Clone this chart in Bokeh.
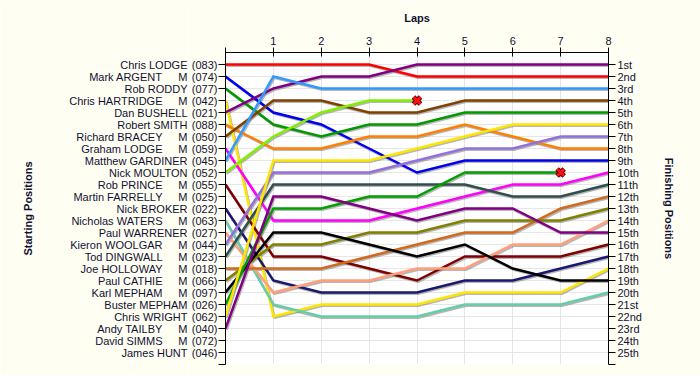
from bokeh.plotting import figure
from bokeh.layouts import row
from bokeh.models import ColumnDataSource, Range1d, LinearAxis, FixedTicker
from bokeh.core.properties import value
from bokeh.embed import file_html
from bokeh.resources import INLINE

# ---------------- data ----------------
DRIVERS = ["Chris LODGE", "Mark ARGENT", "Rob RODDY", "Chris HARTRIDGE", "Dan BUSHELL",
           "Robert SMITH", "Richard BRACEY", "Graham LODGE", "Matthew GARDINER", "Nick MOULTON",
           "Rob PRINCE", "Martin FARRELLY", "Nick BROKER", "Nicholas WATERS", "Paul WARRENER",
           "Kieron WOOLGAR", "Tod DINGWALL", "Joe HOLLOWAY", "Paul CATHIE", "Karl MEPHAM",
           "Buster MEPHAM", "Chris WRIGHT", "Andy TAILBY", "David SIMMS", "James HUNT"]
CAR_NUMBERS = ["083", "074", "077", "042", "021", "088", "050", "059", "045", "052",
               "055", "025", "022", "063", "027", "044", "023", "018", "066", "097",
               "026", "062", "040", "072", "046"]
M_CLASS = [False, True, False, True, False, False, True, True, False, False,
           True, True, False, True, False, True, True, True, True, True,
           False, False, True, True, False]
COLORS = ["#FF0000", "#0000EE", "#009900", "#FFE600", "#800080",
          "#FF8000", "#804000", "#FF00FF", "#3399FF", "#80F000",
          "#800000", "#808080", "#191970", "#66CDAA", "#FFA07A",
          "#9370DB", "#2F4F4F", "#D2691E", "#808000", "#000000",
          "#00A000", "#FFE600", "#800080", "#808080", "#808080"]

LAPS = [0, 1, 2, 3, 4, 5, 6, 7, 8]
N = None
LAP_0 = [1, 2, 3, 4, 5, 6, 7, 8, 9, 10, 11, N, 13, 14, 15, 16, 17, 18, 19, 20, 21, 22, 23, N, N]
LAP_1 = [1, 5, 6, 22, 3, 8, 4, 14, 2, 7, 17, N, 19, 21, 20, 10, 11, 18, 16, 15, 13, 9, 12, N, N]
LAP_2 = [1, 6, 7, 21, 2, 8, 4, 14, 3, 5, 17, N, 20, 22, 19, 10, 11, 18, 16, 15, 13, 9, 12, N, N]
LAP_3 = [1, 8, 6, 21, 2, 7, 5, 14, 3, 4, 18, N, 20, 22, 19, 10, 11, 17, 15, 16, 12, 9, 13, N, N]
LAP_4 = [2, 10, 6, 21, 1, 7, 5, 13, 3, 4, 19, N, 20, 22, 18, 9, 11, 16, 15, 17, 12, 8, 14, N, N]
LAP_5 = [2, 9, 5, 20, 1, 6, 4, 12, 3, N, 17, N, 19, 21, 18, 8, 11, 15, 14, 16, 10, 7, 13, N, N]
LAP_6 = [2, 9, 5, 20, 1, 7, 4, 11, 3, N, 17, N, 19, 21, 16, 8, 12, 15, 14, 18, 10, 6, 13, N, N]
LAP_7 = [2, 9, 5, 20, 1, 8, 4, 11, 3, N, 17, N, 18, 21, 16, 7, 12, 13, 14, 19, 10, 6, 15, N, N]
LAP_8 = [2, 9, 5, 18, 1, 8, 4, 10, 3, N, 16, N, 17, 20, 14, 7, 11, 12, 13, 19, N, 6, 15, N, N]

FINISH_LABELS = ["1st", "2nd", "3rd", "4th", "5th", "6th", "7th", "8th", "9th", "10th",
                 "11th", "12th", "13th", "14th", "15th", "16th", "17th", "18th", "19th", "20th",
                 "21st", "22nd", "23rd", "24th", "25th"]

# ---------------- layout / style ----------------
FONT = "Liberation Sans"
TXT = "#111133"
BG = "#FFFEF3"
TOTAL_W, TOTAL_H = 700, 375
NAMES_W = 188          # width of the driver-name panel
NAMES_LEFT = 38        # room for the "Starting Positions" title
NAME_RIGHT = 187       # right edge of plain names / "M" column (px)
MNAME_RIGHT = 162      # right edge of names that carry an "M"
TOP, BOTTOM = 52, 11

table = [LAP_0, LAP_1, LAP_2, LAP_3, LAP_4, LAP_5, LAP_6, LAP_7, LAP_8]
n_pos = len(DRIVERS)
positions = list(range(1, n_pos + 1))
y_range = Range1d(n_pos + 1, 0)

# ---------------- main chart ----------------
p = figure(width=TOTAL_W - NAMES_W, height=TOTAL_H, x_range=Range1d(LAPS[0], LAPS[-1]),
           y_range=y_range, x_axis_location="above",
           output_backend="svg", toolbar_location=None,
           min_border_left=37, min_border_right=92, min_border_top=TOP, min_border_bottom=BOTTOM)
p.border_fill_color = BG
p.background_fill_color = "white"
p.outline_line_color = None

p.xgrid.ticker = FixedTicker(ticks=LAPS)
p.ygrid.ticker = FixedTicker(ticks=positions + [n_pos + 1])
p.xgrid.grid_line_color = "#E6E6E6"
p.ygrid.grid_line_color = "#E6E6E6"

xa = p.xaxis[0]
xa.ticker = FixedTicker(ticks=LAPS)
xa.major_label_overrides = {LAPS[0]: ""}
xa.axis_label = "Laps"
xa.axis_label_text_font = FONT
xa.axis_label_text_font_size = "11px"
xa.axis_label_text_font_style = "bold"
xa.axis_label_text_color = TXT
xa.axis_label_standoff = 10
xa.major_label_text_font = FONT
xa.major_label_text_font_size = "11px"
xa.major_label_text_color = TXT
xa.major_label_standoff = 3
xa.major_tick_in = 4
xa.major_tick_out = 5
xa.minor_tick_line_color = None

ya = p.yaxis[0]
ya.ticker = FixedTicker(ticks=positions + [n_pos + 1])
ya.major_label_overrides = {**{i + 1: "(" + CAR_NUMBERS[i] + ")" for i in range(n_pos)}, n_pos + 1: ""}
ya.major_label_text_font = FONT
ya.major_label_text_font_size = "11px"
ya.major_label_text_color = TXT
ya.major_label_standoff = 1
ya.major_tick_in = 0
ya.major_tick_out = 7
ya.minor_tick_line_color = None

ra = LinearAxis(ticker=FixedTicker(ticks=positions + [n_pos + 1]),
                major_label_overrides={**{i + 1: FINISH_LABELS[i] for i in range(n_pos)}, n_pos + 1: ""},
                axis_label="Finishing Positions")
ra.axis_label_text_font = FONT
ra.axis_label_text_font_size = "11px"
ra.axis_label_text_font_style = "bold"
ra.axis_label_text_color = TXT
ra.axis_label_standoff = 18
ra.major_label_text_font = FONT
ra.major_label_text_font_size = "11px"
ra.major_label_text_color = TXT
ra.major_label_standoff = 2
ra.major_tick_in = 0
ra.major_tick_out = 7
ra.minor_tick_line_color = None
p.add_layout(ra, "right")

xs, ys, cols, sxs, sys_ = [], [], [], [], []
dnf_x, dnf_y = [], []
for i in range(n_pos):
    lx = [LAPS[k] for k in range(len(LAPS)) if table[k][i] is not None]
    ly = [table[k][i] for k in range(len(LAPS)) if table[k][i] is not None]
    if not lx:
        continue
    xs.append(lx)
    ys.append(ly)
    cols.append(COLORS[i])
    sxs.append([v + 0.022 for v in lx])
    sys_.append([v + 0.11 for v in ly])
    if lx[-1] != LAPS[-1]:
        dnf_x.append(lx[-1])
        dnf_y.append(ly[-1])

p.multi_line(xs=sxs, ys=sys_, line_color="#7A7A7A", line_alpha=0.55, line_width=2.5)
p.multi_line(xs="xs", ys="ys", line_color="c", line_width=2.5, line_join="miter",
             source=ColumnDataSource(dict(xs=xs, ys=ys, c=cols)))

p.scatter(dnf_x, dnf_y, marker="x", size=10, line_color="#4A0000", line_width=5)
p.scatter(dnf_x, dnf_y, marker="x", size=10, line_color="#FF1010", line_width=3)

# ---------------- driver-name panel ----------------
q = figure(width=NAMES_W, height=TOTAL_H, x_range=Range1d(NAMES_LEFT, NAMES_W), y_range=y_range,
           x_axis_location=None, output_backend="svg", toolbar_location=None,
           min_border_left=NAMES_LEFT, min_border_right=0, min_border_top=TOP, min_border_bottom=BOTTOM)
q.border_fill_color = BG
q.background_fill_color = BG
q.outline_line_color = None
q.grid.visible = False
qa = q.yaxis[0]
qa.axis_label = "Starting Positions"
qa.axis_label_text_font = FONT
qa.axis_label_text_font_size = "11px"
qa.axis_label_text_font_style = "bold"
qa.axis_label_text_color = TXT
qa.axis_label_standoff = 5
qa.axis_line_color = None
qa.major_tick_line_color = None
qa.minor_tick_line_color = None
qa.major_label_text_font_size = "0px"
qa.ticker = FixedTicker(ticks=[])

name_x = [MNAME_RIGHT if M_CLASS[i] else NAME_RIGHT for i in range(n_pos)]
m_idx = [i for i in range(n_pos) if M_CLASS[i]]
q.text(x=name_x, y=positions, text=DRIVERS, text_align="right", text_baseline="middle",
       text_font=value(FONT), text_font_size=value("11px"), text_color=TXT)
q.text(x=[NAME_RIGHT] * len(m_idx), y=[positions[i] for i in m_idx], text=["M"] * len(m_idx),
       text_align="right", text_baseline="middle",
       text_font=value(FONT), text_font_size=value("11px"), text_color=TXT)

layout = row(q, p, spacing=0)
html = file_html(layout, INLINE)
html = html.replace("<body>", '<body style="background-color:%s">' % BG, 1)
open("out.html", "w").write(html)
